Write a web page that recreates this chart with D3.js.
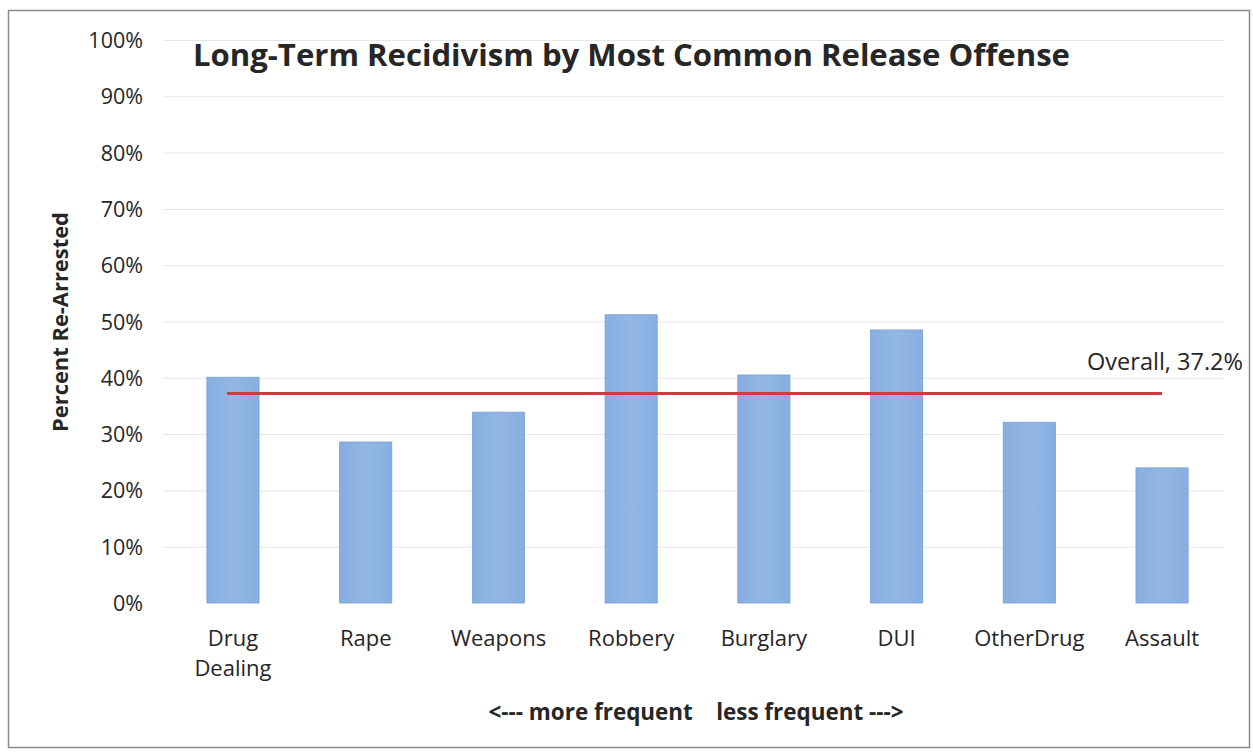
<!DOCTYPE html>
<html><head><meta charset="utf-8">
<script src="https://cdn.jsdelivr.net/npm/d3@7"></script>
<style>body{margin:0;background:#fff}svg{display:block}text{font-family:"Open Sans",sans-serif;fill:#262626}</style>
</head><body>
<svg id="c" width="1253" height="754"></svg>
<script>
const categories = ["Drug\nDealing","Rape","Weapons","Robbery","Burglary","DUI","OtherDrug","Assault"];
const values = [40.1, 28.6, 33.9, 51.2, 40.5, 48.5, 32.1, 24.0];
const overall = 37.2;
const yTicks = [0,10,20,30,40,50,60,70,80,90,100];
const title = "Long-Term Recidivism by Most Common Release Offense";
const yTitle = "Percent Re-Arrested";
const xTitle = "<--- more frequent    less frequent --->";
const overallLabel = "Overall, 37.2%";

const svg = d3.select("#c");
svg.append("rect").attr("x",8.5).attr("y",10.5).attr("width",1241).attr("height",737)
  .attr("fill","#fff").attr("stroke","#8a8a8a").attr("stroke-width",1.5);

const x = d3.scaleBand().domain(categories).range([166.6,1228.4]).paddingInner(0.607).paddingOuter(0.3035);
const y = d3.scaleLinear().domain([0,100]).range([603,40]);

// gridlines
svg.append("g").selectAll("line").data(yTicks.filter(d=>d>0)).join("line")
  .attr("x1",163).attr("x2",1224).attr("y1",d=>y(d)+0.5).attr("y2",d=>y(d)+0.5)
  .attr("stroke","#e6e6e6").attr("stroke-width",1);

// y axis labels
const yAxis = d3.axisLeft(y).tickValues(yTicks).tickFormat(d=>d+"%").tickSize(0).tickPadding(0);
const ga = svg.append("g").attr("transform","translate(143,0)").call(yAxis);
ga.select(".domain").remove();
ga.selectAll("text").style("font-family","'Open Sans',sans-serif").style("font-size","21.5px").attr("fill","#262626").attr("dy","0.35em");

// bars
const grad = svg.append("defs").append("linearGradient").attr("id","bg").attr("x1","0").attr("x2","1");
grad.append("stop").attr("offset","0").attr("stop-color","#86aee0");
grad.append("stop").attr("offset","0.5").attr("stop-color","#93b7e4");
grad.append("stop").attr("offset","1").attr("stop-color","#86aee0");
svg.append("g").selectAll("rect").data(values).join("rect")
  .attr("x",(d,i)=>x(categories[i])).attr("width",x.bandwidth())
  .attr("y",d=>y(d)).attr("height",d=>y(0)-y(d))
  .attr("fill","url(#bg)").attr("stroke","#7c9fd2").attr("stroke-width",0.8);

// overall line
const x0 = x(categories[0]) + x.bandwidth()/2 - 6;
const x1 = x(categories[categories.length-1]) + x.bandwidth()/2;
svg.append("line").attr("x1",x0).attr("x2",x1).attr("y1",y(overall)).attr("y2",y(overall))
  .attr("stroke","#cf3a3f").attr("stroke-width",3);
const ol = svg.append("text").attr("x",1243).attr("y",362).attr("text-anchor","end").attr("dy","0.35em")
  .style("font-size","20px").text(overallLabel);
let w = ol.node().getComputedTextLength();
ol.style("font-size",(20*156/w).toFixed(2)+"px");

// x labels
const xl = svg.append("g").selectAll("text").data(categories).join("text")
  .attr("x",d=>x(d)+x.bandwidth()/2).attr("y",638).attr("text-anchor","middle")
  .style("font-size","22px");
xl.each(function(d){
  const t=d3.select(this);
  d.split("\n").forEach((s,i)=>t.append("tspan").attr("x",x(d)+x.bandwidth()/2).attr("dy",i?"30":"0.35em").text(s));
});

// title
const tt = svg.append("text").attr("x",193).attr("y",55).attr("dy","0.35em")
  .style("font-size","26px").style("font-weight","bold").attr("fill","#111").text(title);
w = tt.node().getComputedTextLength();
tt.style("font-size",(26*877/w).toFixed(2)+"px");

// y title
const yt = svg.append("text").attr("transform","translate(60,322) rotate(-90)").attr("text-anchor","middle")
  .attr("dy","0.35em").style("font-size","18px").style("font-weight","bold").attr("fill","#111").text(yTitle);
w = yt.node().getComputedTextLength();
yt.style("font-size",(18*220/w).toFixed(2)+"px");

// x title
const xt = svg.append("text").attr("x",696).attr("y",712).attr("text-anchor","middle").attr("dy","0.35em")
  .style("font-size","20px").style("font-weight","bold").attr("fill","#111").style("white-space","pre").attr("xml:space","preserve").text(xTitle);
w = xt.node().getComputedTextLength();
xt.style("font-size",(20*415/w).toFixed(2)+"px");
</script>
</body></html>
